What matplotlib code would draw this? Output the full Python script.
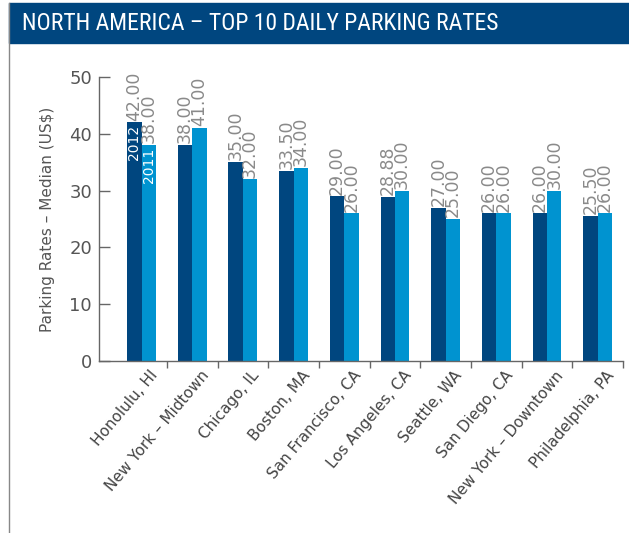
import matplotlib
matplotlib.use("Agg")
import matplotlib.pyplot as plt
from matplotlib import font_manager as fm
import matplotlib.transforms as mtrans
import numpy as np

cities = ["Honolulu, HI", "New York – Midtown", "Chicago, IL", "Boston, MA",
          "San Francisco, CA", "Los Angeles, CA", "Seattle, WA", "San Diego, CA",
          "New York – Downtown", "Philadelphia, PA"]
rates_2012 = [42.00, 38.00, 35.00, 33.50, 29.00, 28.88, 27.00, 26.00, 26.00, 25.50]
rates_2011 = [38.00, 41.00, 32.00, 34.00, 26.00, 30.00, 25.00, 26.00, 30.00, 26.00]
labels_2012 = ["42.00", "38.00", "35.00", "33.50", "29.00", "28.88", "27.00", "26.00", "26.00", "25.50"]
labels_2011 = ["38.00", "41.00", "32.00", "34.00", "26.00", "30.00", "25.00", "26.00", "30.00", "26.00"]
yticks = [0, 10, 20, 30, 40, 50]

available = {f.name for f in fm.fontManager.ttflist}
def pick(cands):
    for c in cands:
        if c in available:
            return c
    return "DejaVu Sans"
narrow = pick(["Liberation Sans Narrow", "DejaVu Sans Condensed", "Roboto Condensed", "Liberation Sans"])
plt.rcParams['font.family'] = ['DejaVu Sans']

DARK = "#00467f"
LIGHT = "#0093d0"

W, H = 629, 533
fig = plt.figure(figsize=(W / 100, H / 100), dpi=100)

# banner
fig.patches.append(plt.Rectangle((9 / W, 1 - 43 / H), 1 - 9 / W, 40 / H,
                                 transform=fig.transFigure, color="#00467f", zorder=0))
fig.lines.append(plt.Line2D([8.5 / W, 8.5 / W], [0, 1 - 3 / H], transform=fig.transFigure,
                            color="#888888", lw=1))
fig.text(22 / W, 1 - 24 / H, "NORTH AMERICA – TOP 10 DAILY PARKING RATES",
         color="white", fontsize=17, family=narrow, va="center", ha="left")

ax = fig.add_axes([99 / W, (H - 361) / H, (623 - 99) / W, (361 - 77) / H])
x = np.arange(len(cities))
bw = 0.285
ax.bar(x - bw / 2, rates_2012, bw, color=DARK)
ax.bar(x + bw / 2, rates_2011, bw, color=LIGHT)

for xi, v, s in zip(x, rates_2012, labels_2012):
    ax.text(xi - bw / 2, v + 0.3, s, rotation=90, ha="center", va="bottom",
            color="#8a8a8a", fontsize=12.5)
for xi, v, s in zip(x, rates_2011, labels_2011):
    ax.text(xi + bw / 2, v + 0.3, s, rotation=90, ha="center", va="bottom",
            color="#8a8a8a", fontsize=12.5)

ax.text(x[0] - bw / 2, rates_2012[0] - 0.5, "2012", rotation=90, ha="center", va="top",
        color="white", fontsize=10)
ax.text(x[0] + bw / 2, rates_2011[0] - 0.5, "2011", rotation=90, ha="center", va="top",
        color="white", fontsize=10)

ax.set_xlim(-0.84, 9.5)
ax.set_ylim(0, 50)
ax.set_yticks(yticks)
ax.set_yticklabels([str(t) for t in yticks], fontsize=13, color="#555555")
ax.tick_params(axis="y", direction="in", length=8, color="#666666", width=1, pad=5)

ax.set_xticks(x)
ax.set_xticklabels(cities, rotation=50, ha="right", rotation_mode="anchor",
                   fontsize=11, color="#444444")
ax.tick_params(axis="x", length=0, pad=5)
ax.set_xticks(np.arange(0.5, 10, 1), minor=True)
ax.tick_params(axis="x", which="minor", direction="out", length=5, color="#666666", width=1)
offset = mtrans.ScaledTranslation(8 / 100, 0, fig.dpi_scale_trans)
for lab in ax.get_xticklabels():
    lab.set_transform(lab.get_transform() + offset)

for s in ["top", "right"]:
    ax.spines[s].set_visible(False)
for s in ["left", "bottom"]:
    ax.spines[s].set_color("#666666")
    ax.spines[s].set_linewidth(1)

ax.set_ylabel("Parking Rates – Median (US$)", fontsize=11, color="#555555", labelpad=10)

fig.savefig("out.png", dpi=100)
